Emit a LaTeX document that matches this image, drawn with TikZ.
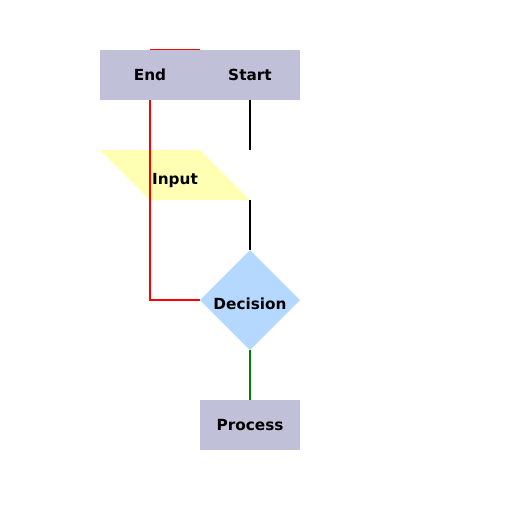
\documentclass[tikz,border=0pt]{standalone}
\usepackage{fontspec}
\setmainfont{DejaVu Sans}
\usetikzlibrary{shapes.geometric}
\definecolor{boxfill}{RGB}{192,192,216}
\definecolor{inputfill}{RGB}{255,255,180}
\definecolor{decfill}{RGB}{180,216,255}
\definecolor{yesgreen}{RGB}{0,128,0}

\begin{document}
\begin{tikzpicture}[x=1pt,y=-1pt,line width=2pt,
  label font/.style={font=\fontsize{15.3}{18}\selectfont\bfseries},
  box/.style={rectangle,fill=boxfill,minimum width=100pt,minimum height=50pt,inner sep=0pt,outer sep=0pt,label font,text height=10pt,text depth=0pt},
  io/.style={rectangle,minimum width=150pt,minimum height=50pt,inner sep=0pt,outer sep=0pt},
  iotext/.style={label font,inner sep=0pt,text height=18pt,text depth=0pt},
  choice/.style={diamond,fill=decfill,minimum width=100pt,minimum height=100pt,inner sep=0pt,outer sep=0pt,label font,text height=18pt,text depth=0pt}]

            \useasboundingbox (0,0) rectangle (512,512);

            \coordinate (top1) at (150,49);
            \coordinate (top2) at (200,49);
            \draw[red,line width=1pt] (top1) -- (top2);

            \node[box] (end) at (150,75) {End};
            \node[box] (start) at (250,75) {Start};
            \node[io] (input) at (175,175) {};
            \fill[inputfill] (input.north west) -- ++(100,0) -- (input.south east) -- ++(-100,0) -- cycle;
            \node[iotext] (inputtext) at (input.center) {Input};
            \node[choice] (decision) at (250,300) {Decision};
            \node[box] (process) at (250,425) {Process};

            \draw (start.south) -- (start.south |- input.north);
            \draw (start.south |- input.south) -- (decision.north);
            \draw[yesgreen] (decision) -- (process);
            \draw[red] (end) |- (decision.west);

            ;
        \end{tikzpicture}
\end{document}
